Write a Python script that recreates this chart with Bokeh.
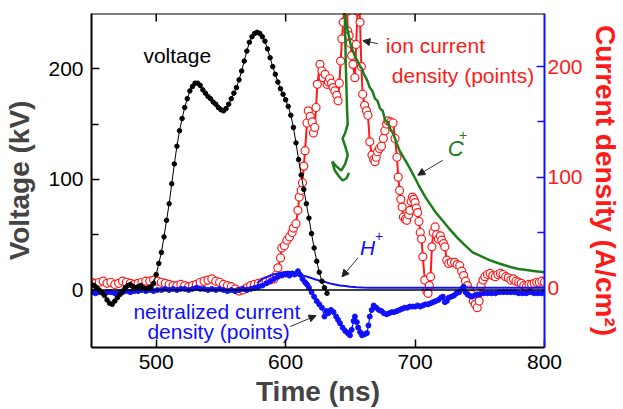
from bokeh.plotting import figure
from bokeh.models import Range1d, LinearAxis, Span, Arrow, NormalHead, FixedTicker
from bokeh.embed import file_html
from bokeh.resources import INLINE
from bokeh.core.properties import value

# ---------------- data ----------------
voltage_t = [450, 452, 454, 456, 458, 460, 462, 464, 466, 468, 470, 472, 474, 476, 478, 480,
             482, 484, 486, 488, 490, 492, 494, 496, 498, 500, 502, 504, 506, 508, 510, 512,
             514, 516, 518, 520, 522, 524, 526, 528, 530, 532, 534, 536, 538, 540, 542, 544,
             546, 548, 550, 552, 554, 556, 558, 560, 562, 564, 566, 568, 570, 572, 574, 576,
             578, 580, 582, 584, 586, 588, 590, 592, 594, 596, 598, 600, 602, 604, 606, 608,
             610, 612, 614, 616, 618, 620, 622, 624, 626, 628, 630, 632]
voltage_kv = [5, 4, 2, 0, -2, -5, -9, -12, -13, -10, -7, -4, -1, 2, 4, 5,
              3, 2, 3, 4, 2, 1, 2, 3, 6, 14, 24, 34, 48, 63, 78, 96,
              114, 130, 144, 155, 165, 173, 180, 184, 187, 187, 185, 181, 178, 175, 173, 170,
              168, 165, 163, 162, 164, 168, 173, 178, 183, 190, 198, 207, 216, 224, 229, 232,
              233, 232, 229, 225, 218, 210, 202, 195, 188, 182, 177, 172, 166, 158, 147, 133,
              118, 104, 91, 78, 65, 51, 38, 26, 16, 8, 2, -3]

ion_t = [450, 453, 456, 459, 462, 465, 468, 471, 474, 477, 480, 483, 486, 489, 492, 495,
         498, 501, 504, 507, 510, 513, 516, 519, 522, 525, 528, 531, 534, 537, 540, 543,
         546, 549, 552, 555, 558, 561, 564, 567, 570, 573, 576, 579, 582, 585, 588, 591,
         593, 594, 596, 597, 599, 601, 603, 605, 606, 608, 609.5, 610.5, 612, 613, 614, 615,
         616.5, 617.5, 619, 620.5, 621.5, 622.5, 623.5, 624.5, 626.5, 628, 629, 630.5, 632, 633,
         634, 635.5, 636.6, 638, 639.5, 640.5, 641.5, 642.5, 643.5, 644.5, 645.5, 646.5, 647.5, 648,
         649, 650, 651, 652, 653.5, 654.5, 655.5, 656.5, 657.5, 658.5, 659.5, 661, 662.5, 663.6,
         665, 666.7, 668, 669, 670, 671, 672.5, 674, 675.5, 676.7, 678, 679, 681, 683,
         684.5, 686, 687, 688, 689, 690, 691, 692.5, 693.6, 695, 696, 697, 698, 699,
         700, 701, 702, 703, 704, 705, 706, 707.5, 709, 710, 711, 712, 713, 714,
         715.5, 716.7, 718, 719.5, 720.6, 722, 723, 724.5, 726, 728, 730.5, 732.5, 734.5, 736,
         737.5, 739, 740.5, 742, 743.5, 745, 746.5, 748, 749.5, 751, 752.5, 754, 756, 758,
         760, 762, 764, 766, 768, 770, 772, 774, 776, 778, 780, 782, 784, 786,
         788, 790, 792, 794, 796, 798, 800]
ion_j = [5, 4, 5, 6, 4, 5, 3, 4, 6, 5, 4, 3, 4, 5, 6, 6,
         7, 6, 5, 4, 3, 2, 2, 3, 2, 1, 2, 3, 5, 6, 7, 8,
         6, 5, 3, 2, 1, -1, -3, -2, 0, 2, 3, 4, 5, 6, 7, 8,
         12, 18, 27, 36, 38, 43, 46, 50, 54, 58, 70, 82, 88, 95, 110, 124,
         149, 160, 155, 150, 140, 145, 163, 184, 202, 196, 190, 193, 184, 186,
         189, 185, 181, 178, 174, 169, 185, 205, 225, 240, 260, 275, 250, 232,
         228, 221, 210, 202, 190, 220, 250, 270, 240, 200, 175, 165, 160, 156,
         132, 120, 116, 114, 118, 123, 126, 128, 135, 142, 148, 151, 150, 149,
         135, 118, 100, 88, 80, 73, 64, 62, 61, 66, 70, 78, 82, 80,
         77, 72, 68, 60, 50, 44, 28, 7, -3, -5, 2, 10, 37, 50,
         55, 48, 44, 47, 43, 40, 37, 25, 22, 23, 23, 21, 20, 15,
         11, 6, 2, -2, -6, -12, -15, -18, -12, 2, 7, 10, 12, 13,
         11, 10, 12, 13, 12, 10, 9, 7, 8, 6, 5, 4, 2, 1,
         3, 3, 4, 5, 5, 6, 5]

neut_t = [450, 453, 456, 459, 462, 465, 468, 471, 474, 477, 480, 483, 486, 489, 492, 495,
          498, 501, 504, 507, 510, 513, 516, 519, 522, 525, 528, 531, 534, 537, 540, 543,
          546, 549, 552, 555, 558, 561, 564, 567, 570, 573, 576, 579, 582, 585, 588, 591,
          594, 597, 600, 603, 605, 607, 609.5, 611, 613, 615, 616.5, 618, 620, 622, 624, 626,
          628, 630, 631.5, 633, 635, 637, 639, 640.5, 642, 644, 646, 648, 649.7, 651,
          652.5, 653.5, 655, 656, 657.5, 659, 661, 662.8, 664, 665, 666.5, 668, 670, 672,
          674, 676, 678, 680, 682, 684, 686, 688, 690, 692, 694, 696, 698, 700,
          702, 704, 706, 708, 710, 712, 714, 716, 718, 720, 721.5, 723, 724.5, 726,
          728, 730, 732, 734, 736, 737.5, 739, 740.5, 742, 744, 746, 748, 750, 753,
          756, 759, 762, 765, 768, 771, 774, 777, 780, 783, 786, 789, 792, 795, 798, 800]
neut_j = [-4, -5, -4, -5, -4, -4, -5, -4, -4, -3, -4, -3, -3, -2, -3, -2,
          -3, -2, -2, -1, -2, -1, -2, -1, -1, -2, -1, 0, -1, -1, -2, -1,
          -2, -1, -2, -3, -2, -3, -2, -1, -2, -1, 0, 1, 2, 4, 6, 8,
          10, 11, 12, 11, 13, 12, 15, 12, 8, 5, 3, 0, -4, -8, -12, -15,
          -18, -26, -21, -23, -20, -22, -26, -29, -32, -36, -39, -41, -43, -38,
          -30, -26, -31, -36, -40, -43, -42, -41, -34, -26, -20, -16, -18, -20,
          -21, -23, -24, -23, -22, -22, -21, -20, -19, -18, -18, -17, -17, -17,
          -16, -17, -16, -15, -15, -14, -13, -12, -11, -9, -8, -13, -12, -9,
          -8, -7, -5, -4, -1, 1, -4, -6, -7, -8, -7, -6, -6, -5,
          -5, -5, -5, -4, -4, -4, -4, -4, -5, -5, -5, -4, -5, -5, -5, -4]

hplus_t = [578, 582, 586, 590, 594, 598, 602, 606, 610, 614, 618, 622, 626, 630, 634, 638,
           642, 646, 650, 655, 660, 665, 700, 750, 800]
hplus_j = [4, 8, 10, 12, 13, 14, 14.5, 14, 13, 11, 9.5, 8, 6.5, 5.5, 4, 3,
           2, 1.5, 1, 0.5, 0.2, 0, 0, 0, 0]

cplus_fold_t = [645.5, 646.5, 647.5, 648, 646, 644, 646, 648, 646, 643, 639, 636, 638, 641, 644, 647, 649]
cplus_fold_j = [260, 200, 160, 148, 140, 135, 128, 120, 112, 106, 110, 114, 106, 101, 97, 99, 104]

cplus_t = [644.5, 646, 648, 650, 652, 654, 656, 657.5, 659, 660.5, 662, 663.5, 665, 667, 669, 671,
           673, 675, 677, 679, 681, 683, 686, 688, 692, 696, 700, 704, 708, 712, 716, 721,
           726, 732, 738, 744.5, 750, 757.5, 765, 773, 780, 786, 793, 800]
cplus_j = [260, 245, 232, 221, 214, 208, 204, 200, 198, 193, 190, 186, 181, 178, 171, 169,
           162, 160, 151, 150, 143, 140, 130, 124, 116, 108, 99, 90, 82, 75, 68, 61,
           54, 46, 39, 32, 29, 25, 22, 19, 17, 16, 15, 14]

x_ticks = [500, 600, 700, 800]
top_ticks = [500, 600, 700]
y_ticks = [0, 100, 200]
y_minor = [50, 150]

X_START, X_END = 450, 800
Y_START, Y_END = -52, 250
YR_START, YR_END = -54, 248

RED = "#ff1a1a"
BLUE = "#1010ff"
GREEN = "#1d7d1d"
FONT = "Liberation Sans"

# ---------------- figure ----------------
p = figure(width=623, height=409, output_backend="svg", toolbar_location=None,
           x_range=Range1d(X_START, X_END), y_range=Range1d(Y_START, Y_END),
           min_border_left=91, min_border_right=78, min_border_top=13, min_border_bottom=61)
p.extra_y_ranges = {"right": Range1d(YR_START, YR_END)}
p.grid.visible = False
p.outline_line_color = None
p.background_fill_color = "white"
p.border_fill_color = "white"

def style_axis(ax, color="black", label_color="black"):
    ax.axis_line_width = 2
    ax.axis_line_color = color
    ax.major_tick_line_color = color
    ax.minor_tick_line_color = color
    ax.major_tick_line_width = 1.5
    ax.minor_tick_line_width = 1.5
    ax.major_tick_in = 8
    ax.major_tick_out = 0
    ax.minor_tick_in = 7
    ax.minor_tick_out = 0
    ax.major_label_text_font = FONT
    ax.major_label_text_font_size = "21px"
    ax.major_label_text_color = label_color
    ax.axis_label_text_font = FONT
    ax.axis_label_text_font_size = "28px"
    ax.axis_label_text_font_style = "bold"

xa = p.xaxis[0]
xa.ticker = FixedTicker(ticks=x_ticks, minor_ticks=[])
style_axis(xa)
xa.axis_label = "Time (ns)"
xa.major_label_standoff = 7
xa.axis_label_standoff = 4

ya = p.yaxis[0]
ya.ticker = FixedTicker(ticks=y_ticks, minor_ticks=y_minor)
style_axis(ya)
ya.axis_label = "Voltage (kV)"
ya.major_label_standoff = 8
ya.axis_label_standoff = 10

ra = LinearAxis(y_range_name="right", ticker=FixedTicker(ticks=y_ticks, minor_ticks=y_minor))
style_axis(ra, color=BLUE, label_color=RED)
ra.axis_label = "Current density (A/cm²)"
ra.axis_label_text_color = RED
ra.major_label_standoff = 3
ra.axis_label_standoff = 4
p.add_layout(ra, "right")

# top frame edge with inward ticks (no labels)
p.add_layout(Span(location=Y_END, dimension="width", line_color="black", line_width=2))
p.segment(x0=top_ticks, y0=[Y_END] * len(top_ticks), x1=top_ticks,
          y1=[Y_END - 7.2] * len(top_ticks), line_color="black", line_width=1.5)

p.add_layout(Span(location=0, dimension="width", line_color="black", line_width=1.5))

# ---------------- series ----------------
p.line(ion_t, ion_j, y_range_name="right", line_color=RED, line_width=2)
p.scatter(ion_t, ion_j, y_range_name="right", marker="circle", size=8,
          line_color=RED, fill_color="white", line_width=1.2)

p.line(cplus_fold_t, cplus_fold_j, y_range_name="right", line_color=GREEN, line_width=2.5)
p.line(cplus_t, cplus_j, y_range_name="right", line_color=GREEN, line_width=2.5)

p.line(hplus_t, hplus_j, y_range_name="right", line_color=BLUE, line_width=2)

p.line(neut_t, neut_j, y_range_name="right", line_color=BLUE, line_width=1.2)
p.scatter(neut_t, neut_j, y_range_name="right", marker="circle", size=5,
          line_color=BLUE, fill_color=BLUE)

p.line(voltage_t, voltage_kv, line_color="black", line_width=1)
p.scatter(voltage_t, voltage_kv, marker="circle", size=4.5, line_color="black", fill_color="black")

# ---------------- annotations ----------------
def label(x, y, txt, color, size="21px", style="normal", rng="default"):
    p.text(x=[x], y=[y], text=[txt], text_color=color, text_font=value(FONT),
           text_font_size=size, text_font_style=style, text_align="left",
           text_baseline="alphabetic", y_range_name=rng)

label(490.1, 212, "voltage", "black")
label(677.4, 219.5, "ion current", RED, rng="right")
label(682.0, 191.5, "density (points)", RED, rng="right")
label(725.3, 125.5, "C", GREEN, size="22px", style="italic", rng="right")
label(734.0, 138.0, "+", GREEN, size="14px", rng="right")
label(657.4, 36.5, "H", BLUE, size="21px", style="italic", rng="right")
label(669.0, 47.0, "+", BLUE, size="14px", rng="right")
label(482.4, -21.5, "neitralized current", BLUE, rng="right")
label(493.2, -39.5, "density (points)", BLUE, rng="right")

def arrow(x0, y0, x1, y1):
    p.add_layout(Arrow(end=NormalHead(size=7, fill_color="#222222", line_color="#222222"),
                       x_start=x0, y_start=y0, x_end=x1, y_end=y1,
                       line_color="#333333", line_width=1, y_range_name="right"))

arrow(671.3, 220.7, 659.7, 223.4)
arrow(721.4, 115.3, 702.1, 101.8)
arrow(655.9, 27.0, 643.5, 9.9)
arrow(603.4, -35.1, 623.5, -25.2)

open("out.html", "w").write(file_html(p, INLINE))
